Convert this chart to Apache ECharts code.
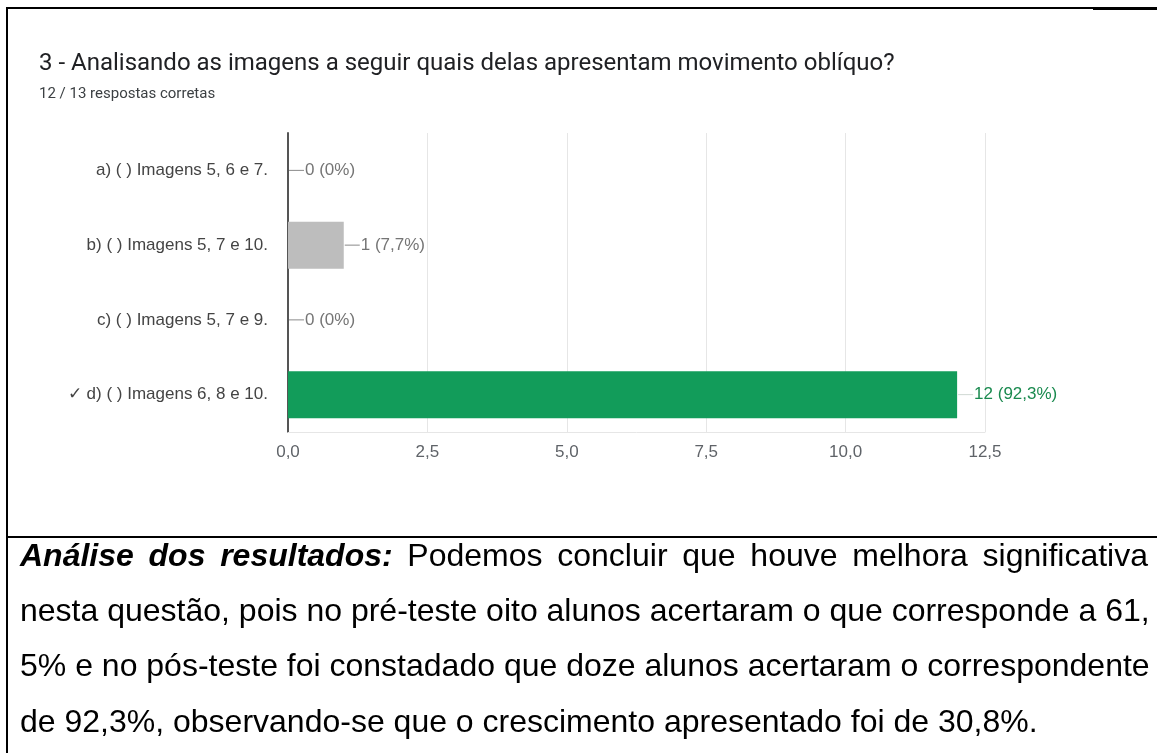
<!DOCTYPE html>
<html>
<head>
<meta charset="utf-8">
<script src="https://cdn.jsdelivr.net/npm/echarts@6/dist/echarts.min.js"></script>
<style>
  html, body { margin: 0; padding: 0; background: #fff; }
  #page { position: relative; width: 1157px; height: 753px; overflow: hidden; }
  #grafico { position: absolute; left: 0; top: 0; width: 1157px; height: 753px; }
  .linha { position: absolute; background: #000; }
  #analise { position: absolute; left: 20px; top: 528px; width: 1128px;
    font-family: Arial, "Liberation Sans", sans-serif; font-size: 32px; line-height: 55.2px; color: #000; }
  #analise div { white-space: nowrap; text-align: justify; text-align-last: justify; }
  #analise div.ultima { text-align: left; text-align-last: left; }
</style>
</head>
<body>
<div id="page">
  <div id="grafico"></div>
  <div class="linha" style="left:6px; top:7px; width:1151px; height:2px;"></div>
  <div class="linha" style="left:1093px; top:7px; width:64px; height:3px;"></div>
  <div class="linha" style="left:6px; top:7px; width:2px; height:746px;"></div>
  <div class="linha" style="left:6px; top:536px; width:1151px; height:2px;"></div>
  <div id="analise">
    <div><b><i>Análise dos resultados:</i></b> Podemos concluir que houve melhora significativa</div>
    <div>nesta questão, pois no pré-teste oito alunos acertaram o que corresponde a 61,</div>
    <div>5% e no pós-teste foi constadado que doze alunos acertaram o correspondente</div>
    <div class="ultima">de 92,3%, observando-se que o crescimento apresentado foi de 30,8%.</div>
  </div>
</div>
<script>
// dados do gráfico
var titulo = '3 - Analisando as imagens a seguir quais delas apresentam movimento oblíquo?';
var subtitulo = '12 / 13 respostas corretas';
var alternativas = ['a) ( ) Imagens 5, 6 e 7.', 'b) ( ) Imagens 5, 7 e 10.', 'c) ( ) Imagens 5, 7 e 9.', '✓ d) ( ) Imagens 6, 8 e 10.'];
var respostas = [0, 1, 0, 12];
var percentuais = ['0%', '7,7%', '0%', '92,3%'];
var coresBarras = ['#bdbdbd', '#bdbdbd', '#bdbdbd', '#129c5a'];
var coresRotulos = ['#757575', '#757575', '#757575', '#1a8a4f'];
var correta = 3;

var grafico = echarts.init(document.getElementById('grafico'));

var opcao = {
    animation: false,
    title: {
        text: titulo,
        subtext: subtitulo,
        left: 34,
        top: 46,
        itemGap: 9,
        textStyle: { fontFamily: 'Roboto', fontSize: 24, fontWeight: 'normal', color: '#202124', lineHeight: 26 },
        subtextStyle: { fontFamily: 'Roboto', fontSize: 15, color: '#3c4043', lineHeight: 17 }
    },
    grid: { left: 288, right: 172, top: 133, bottom: 321 },
    xAxis: {
        type: 'value',
        min: 0,
        max: 12.5,
        interval: 2.5,
        axisLine: { show: true, lineStyle: { color: '#e6e6e6' } },
        axisTick: { show: false },
        splitLine: { lineStyle: { color: '#e6e6e6' } },
        axisLabel: {
            margin: 12,
            fontFamily: 'Arial',
            fontSize: 17,
            color: '#5f6368',
            formatter: function (v) { return v.toFixed(1).replace('.', ','); }
        }
    },
    yAxis: {
        type: 'category',
        inverse: true,
        data: alternativas,
        axisLine: { lineStyle: { color: '#555', width: 2 } },
        axisTick: { show: false },
        axisLabel: { margin: 20, fontFamily: 'Arial', fontSize: 17, color: '#444' }
    },
    series: [{
        type: 'bar',
        barWidth: 47,
        data: respostas.map(function (v, i) {
            return {
                value: v,
                itemStyle: { color: coresBarras[i] },
                label: { color: coresRotulos[i] }
            };
        }),
        label: {
            show: true,
            position: 'right',
            distance: 17,
            fontFamily: 'Arial',
            fontSize: 17,
            formatter: function (p) { return p.value + ' (' + percentuais[p.dataIndex] + ')'; }
        }
    }, {
        // traço curto entre a barra e o rótulo
        type: 'custom',
        silent: true,
        data: respostas.map(function (v, i) { return [v, i]; }),
        encode: { x: 0, y: 1 },
        renderItem: function (params, api) {
            var p = api.coord([api.value(0), api.value(1)]);
            var i = params.dataIndex;
            return {
                type: 'line',
                shape: { x1: p[0] + 1, y1: p[1], x2: p[0] + 16, y2: p[1] },
                style: { stroke: i === correta ? '#cfd8d3' : '#8a8a8a', lineWidth: 1 }
            };
        }
    }]
};

grafico.setOption(opcao);
</script>
</body>
</html>
